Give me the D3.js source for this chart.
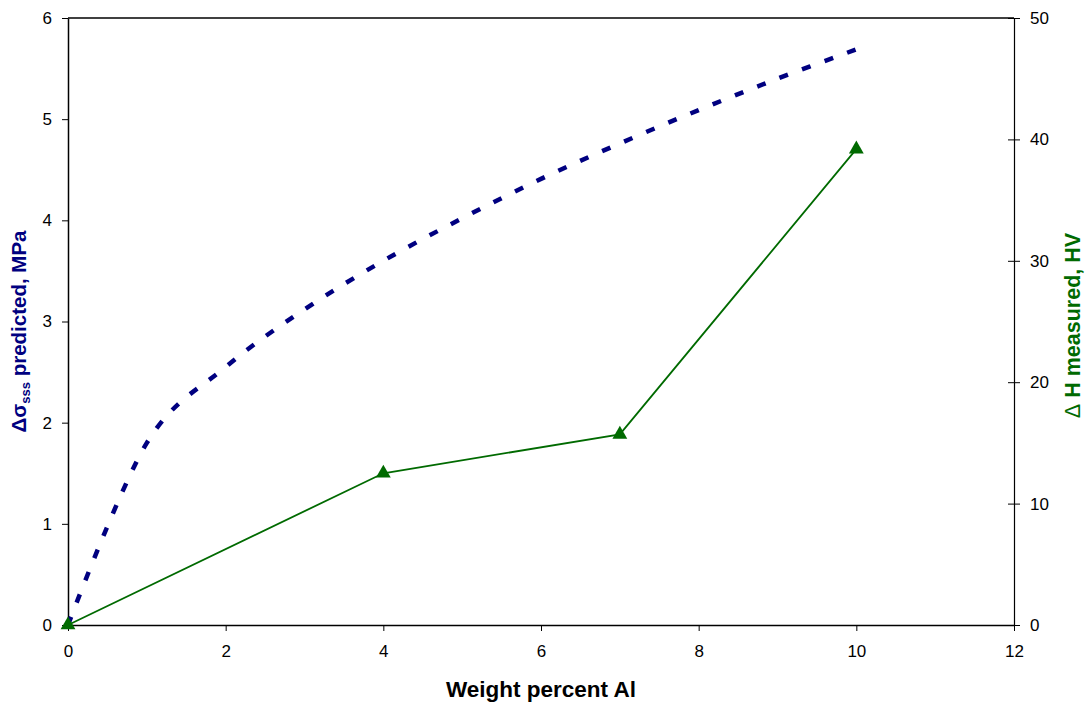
<!DOCTYPE html>
<html>
<head>
<meta charset="utf-8">
<script src="https://cdn.jsdelivr.net/npm/d3@7"></script>
<style>
  html, body { margin: 0; padding: 0; background: #fff; }
  svg { display: block; font-family: "Liberation Sans", Arial, sans-serif; }
  .tick text { fill: #000; font-size: 17px; }
  .tick line, .domain { stroke: #000; }
</style>
</head>
<body>
<svg id="chart" width="1089" height="706"></svg>
<script>
// Predicted solid-solution strengthening (left axis, MPa)
const predWt = [0, 1, 2, 3, 4, 5, 6, 7, 8, 9, 10];
const predStress = [0, 1.8, 2.55, 3.12, 3.6, 4.02, 4.41, 4.76, 5.09, 5.4, 5.69];

// Measured hardness increase (right axis, HV)
const measWt = [0, 4, 7, 10];
const measHardness = [0, 12.5, 15.7, 39.2];

const xTicks = [0, 2, 4, 6, 8, 10, 12];
const leftTicks = [0, 1, 2, 3, 4, 5, 6];
const rightTicks = [0, 10, 20, 30, 40, 50];

const W = 1089, H = 706;
const m = { left: 68, top: 18, right: 75, bottom: 81 };
const svg = d3.select("#chart");

const x = d3.scaleLinear().domain([0, 12]).range([m.left, W - m.right]);
const yL = d3.scaleLinear().domain([0, 6]).range([H - m.bottom, m.top]);
const yR = d3.scaleLinear().domain([0, 50]).range([H - m.bottom, m.top]);
const fmt = d3.format("d");

// plot frame (top edge)
svg.append("line")
  .attr("x1", x(0)).attr("x2", x(12))
  .attr("y1", yL(6)).attr("y2", yL(6))
  .attr("stroke", "#000").attr("stroke-width", 1.5);

// x axis
const gx = svg.append("g")
  .attr("transform", `translate(0,${yL(0)})`)
  .call(d3.axisBottom(x).tickValues(xTicks).tickFormat(fmt)
    .tickSize(6).tickSizeOuter(0).tickPadding(14));
gx.select(".domain").attr("stroke-width", 1.5);

// left axis
const gl = svg.append("g")
  .attr("transform", `translate(${x(0)},0)`)
  .call(d3.axisLeft(yL).tickValues(leftTicks).tickFormat(fmt)
    .tickSize(6).tickSizeOuter(0).tickPadding(10));
gl.select(".domain").attr("stroke-width", 1.5);

// right axis, ticks cross the axis line
const gr = svg.append("g")
  .attr("transform", `translate(${x(12)},0)`)
  .call(d3.axisRight(yR).tickValues(rightTicks).tickFormat(fmt)
    .tickSize(6).tickSizeOuter(0).tickPadding(10));
gr.selectAll(".tick line").attr("x1", -6).attr("x2", 6);
gr.select(".domain").attr("stroke-width", 1.2);

// predicted curve (dashed, smoothed)
const predLine = d3.line()
  .x((d, i) => x(predWt[i]))
  .y(d => yL(d))
  .curve(d3.curveCardinal.tension(0));
svg.append("path")
  .datum(predStress)
  .attr("d", predLine)
  .attr("fill", "none")
  .attr("stroke", "#000080")
  .attr("stroke-width", 4.5)
  .attr("stroke-dasharray", "9,15");

// measured hardness line with triangle markers
const measLine = d3.line()
  .x((d, i) => x(measWt[i]))
  .y(d => yR(d));
svg.append("path")
  .datum(measHardness)
  .attr("d", measLine)
  .attr("fill", "none")
  .attr("stroke", "#006a00")
  .attr("stroke-width", 1.8);

svg.selectAll(".marker")
  .data(measHardness)
  .join("path")
  .attr("class", "marker")
  .attr("d", d3.symbol(d3.symbolTriangle, 95))
  .attr("transform", (d, i) => `translate(${x(measWt[i])},${yR(d)})`)
  .attr("fill", "#006a00");

// axis titles
svg.append("text")
  .attr("x", (x(0) + x(12)) / 2)
  .attr("y", 697)
  .attr("text-anchor", "middle")
  .attr("font-weight", "bold")
  .attr("font-size", 22.5)
  .attr("fill", "#000")
  .text("Weight percent Al");

const lt = svg.append("text")
  .attr("transform", `translate(26,${(yL(0) + yL(6)) / 2 + 10}) rotate(-90)`)
  .attr("text-anchor", "middle")
  .attr("font-weight", "bold")
  .attr("font-size", 20.5)
  .attr("fill", "#000080");
lt.append("tspan").text("Δσ");
lt.append("tspan").attr("font-size", 13).attr("dy", 4).text("sss");
lt.append("tspan").attr("dy", -4).text(" predicted, MPa");

const rt = svg.append("text")
  .attr("transform", `translate(1080,${(yR(0) + yR(50)) / 2 + 4}) rotate(-90)`)
  .attr("text-anchor", "middle")
  .attr("font-size", 21.5)
  .attr("fill", "#006a00");
rt.append("tspan").attr("font-weight", "normal").text("Δ");
rt.append("tspan").attr("font-weight", "bold").text(" H measured, HV");
</script>
</body>
</html>
